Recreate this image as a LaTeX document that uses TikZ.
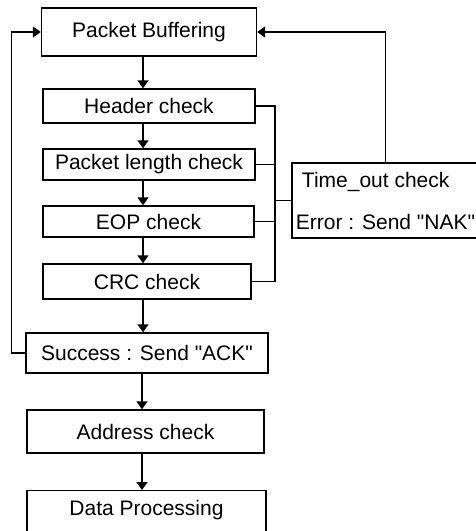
\documentclass[tikz,border=0pt]{standalone}
\usepackage{fontspec}
\setmainfont{Liberation Sans}
\usetikzlibrary{arrows.meta}

\begin{document}
\begin{tikzpicture}[x=1pt,y=-1pt,line width=1.4pt,
    box/.style={draw, inner sep=2pt, font=\fontsize{21}{25}\selectfont},
    arr/.style={-{Triangle[width=11pt,length=8pt]}}]
    \useasboundingbox (0,0) rectangle (476,531);
    \clip (0,0) rectangle (476,531);

    % Pruefschritte
    \node[box, minimum width=215pt, minimum height=48pt] (buffer) at (149,32) {Packet Buffering};
    \node[box, minimum width=212pt, minimum height=34pt] (header) at (149,106) {Header check};
    \node[box, minimum width=212pt, minimum height=31pt] (length) at (149,164.5) {Packet length check};
    \node[box, minimum width=211pt, minimum height=31pt] (eop) at (148.5,221.5) {EOP check};
    \node[box, minimum width=208pt, minimum height=35pt] (crc) at (147,281.5) {CRC check};
    \node[box, minimum width=242pt, minimum height=40pt] (ack) at (147,353)
        {Success : Send \textquotedbl ACK\textquotedbl};
    \node[box, minimum width=237pt, minimum height=43pt] (address) at (145.5,431.5) {Address check};
    \node[box, minimum width=239pt, text height=16pt, text depth=60pt, inner ysep=9pt,
          anchor=north] (data) at (146.5,490) {Data Processing};

    % Fehlerfall
    \node[box, minimum width=181pt, minimum height=75pt, align=left, inner xsep=4pt,
          font=\fontsize{21}{42}\selectfont] (timeout) at (385.5,200.5)
        {\hspace{6pt}Time\_out check\\Error : Send \textquotedbl NAK\textquotedbl};

    % Hauptablauf
    \coordinate (axis) at (143,0);
    \coordinate (axis2) at (142,0);
    \draw[arr] (buffer.south -| axis) -- (header.north -| axis);
    \draw[arr] (header.south -| axis) -- (length.north -| axis);
    \draw[arr] (length.south -| axis) -- (eop.north -| axis);
    \draw[arr] (eop.south -| axis) -- (crc.north -| axis);
    \draw[arr] (crc.south -| axis) -- (ack.north -| axis);
    \draw[arr] (ack.south -| axis2) -- (address.north -| axis2);
    \draw[arr] (address.south -| axis2) -- (data.north -| axis2);

    % Sammelleitung zum Time_out
    \coordinate (bus) at (275,0);
    \draw (header.east) -| (bus |- crc.east) -- (crc.east);
    \draw (length.east) -- (length.east -| bus);
    \draw (eop.east) -- (eop.east -| bus);
    \draw (timeout.west) -- (timeout.west -| bus);

    % Rueckfuehrungen
    \draw[arr] (timeout.north) |- (buffer.east);
    \draw[arr] (ack.west) -- ++(-14,0) |- (buffer.west);
\end{tikzpicture}
\end{document}
